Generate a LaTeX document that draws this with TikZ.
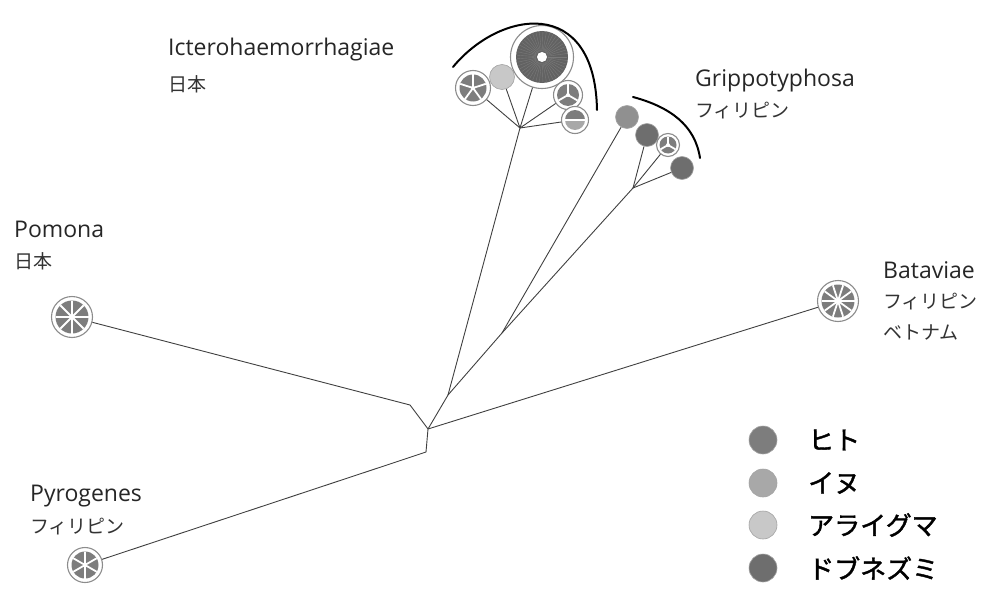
\documentclass[tikz,border=0pt]{standalone}
\usepackage{fontspec}
\setmainfont{Open Sans}
\newfontfamily\cjk{Noto Sans CJK JP}
\newfontfamily\cjkb[FakeBold=1.5]{Noto Sans CJK JP}
\definecolor{human}{HTML}{7D7D7D}
\definecolor{dog}{HTML}{A8A8A8}
\definecolor{racc}{HTML}{C8C8C8}
\definecolor{rat}{HTML}{6E6E6E}
\definecolor{ringc}{HTML}{8C8C8C}
\definecolor{bigc}{HTML}{626262}
\newcommand\wheelfill[5]{%
  \fill[#5] (#1.center) circle (#2);
  \foreach \k in {1,...,#3} \draw[white, line width=1.8pt] (#1.center) -- ++({#4+360*\k/#3}:#2);
  \fill[white] (#1.center) circle (2pt);
}
\tikzset{
  branch/.style={draw=black!75, line width=0.9pt},
  leaf/.style={circle, inner sep=0pt, draw=ringc, line width=1.1pt, fill=white},
  dotnode/.style={circle, inner sep=0pt, draw=ringc!80, line width=0.6pt},
  lab/.style={font=\fontsize{23}{26}\selectfont, anchor=base west, inner sep=0pt, text=black!85},
  jlab/.style={font=\cjk\fontsize{19}{21}\selectfont, anchor=west, inner sep=0pt, text=black!80},
  leg/.style={font=\cjkb\fontsize{26}{28}\selectfont, anchor=west, inner sep=0pt},
  bracket/.style={draw=black, line width=2pt, line cap=round},
}
\begin{document}
\begin{tikzpicture}[x=1pt,y=-1pt]
\useasboundingbox (0,0) rectangle (993,594);
% leaves
\node[leaf, minimum size=41pt] (pom) at (72,317) {};
\node[leaf, minimum size=41pt] (bat) at (838,301) {};
\node[leaf, minimum size=35pt] (pyr) at (85,565) {};
\node[leaf, minimum size=35pt] (i1) at (473,88) {};
\node[dotnode, fill=racc, minimum size=25pt] (i2) at (502,77) {};
\node[leaf, minimum size=63pt] (i3) at (542,57) {};
\node[leaf, minimum size=29pt] (i4) at (568,95) {};
\node[leaf, minimum size=27pt] (i5) at (575,120) {};
\node[dotnode, fill=human!85!white, minimum size=23pt] (g1) at (627,117) {};
\node[dotnode, fill=rat, minimum size=23pt] (g2) at (647,135) {};
\node[leaf, minimum size=23pt] (g3) at (668,145) {};
\node[dotnode, fill=rat, minimum size=23pt] (g4) at (682,168) {};
% inner patterns
\wheelfill{pom}{16.5pt}{8}{0}{human}
\wheelfill{bat}{16.5pt}{10}{0}{human}
\wheelfill{pyr}{13.5pt}{6}{30}{human}
\wheelfill{i1}{13.5pt}{5}{90}{human}
\wheelfill{i4}{11pt}{3}{90}{human}
\wheelfill{g3}{8.5pt}{3}{90}{human}
\fill[bigc] (i3.center) circle (26pt);
\foreach \a in {0,8,...,352} \draw[white, opacity=0.15, line width=0.4pt] (i3.center) ++(\a:6pt) -- ++(\a:19pt);
\fill[white] (i3.center) circle (5pt);
\fill[dog] (i5.center) ++(-10pt,0) arc[start angle=180, end angle=360, radius=10pt] -- cycle;
\fill[human] (i5.center) ++(-10pt,0) arc[start angle=180, end angle=0, radius=10pt] -- cycle;
\draw[white, line width=2.5pt] (i5.center) ++(-10pt,0) -- ++(20pt,0);
% tree
\coordinate (root) at (428,429);
\coordinate (na) at (448,395);
\coordinate (ihub) at (520,128);
\coordinate (nb) at (502,333);
\coordinate (ghub) at (633,188);
\coordinate (pk) at (410,405);
\coordinate (y1) at (426,452);
\coordinate (y2) at (393,463);
\draw[branch] (root) -- (na) -- (ihub);
\draw[branch] (na) -- (nb) -- (g1);
\draw[branch] (nb) -- (ghub);
\draw[branch] (ghub) -- (g2);
\draw[branch] (ghub) -- (g3);
\draw[branch] (ghub) -- (g4);
\draw[branch] (ihub) -- (i1);
\draw[branch] (ihub) -- (i2);
\draw[branch] (ihub) -- (i3);
\draw[branch] (ihub) -- (i4);
\draw[branch] (ihub) -- (i5);
\draw[branch] (root) -- (pk) -- (pom);
\draw[branch] (root) -- (y1) -- (y2) -- (pyr);
\draw[branch] (root) -- (bat);
% brackets
\coordinate (ia) at (453,67);
\coordinate (ib) at (597,110);
\draw[bracket] (ia) .. controls (500,10) and (595,-5) .. (ib);
\coordinate (ga) at (633,97);
\coordinate (gb) at (700,158);
\draw[bracket] (ga) .. controls (670,107) and (695,125) .. (gb);
% labels
\node[lab] (tI) at (168,56) {Icterohaemorrhagiae};
\node[jlab] (tIj) at (168,84) {日本};
\node[lab] (tG) at (695,86) {Grippotyphosa};
\node[jlab] (tGj) at (695,111) {フィリピン};
\node[lab] (tP) at (14,237) {Pomona};
\node[jlab] (tPj) at (14,261) {日本};
\node[lab] (tB) at (883,278) {Bataviae};
\node[jlab] (tBj1) at (883,302) {フィリピン};
\node[jlab] (tBj2) at (883,333) {ベトナム};
\node[lab] (tY) at (30,501) {Pyrogenes};
\node[jlab] (tYj) at (30,527) {フィリピン};
% legend
\node[dotnode, fill=human, minimum size=28pt] (l1) at (763,440) {};
\node[dotnode, fill=dog, minimum size=28pt] (l2) at (763,483) {};
\node[dotnode, fill=racc, minimum size=28pt] (l3) at (763,525) {};
\node[dotnode, fill=rat, minimum size=28pt] (l4) at (763,568) {};
\node[leg] (lt1) at (808,440) {ヒト};
\node[leg] (lt2) at (808,483) {イヌ};
\node[leg] (lt3) at (808,525) {アライグマ};
\node[leg] (lt4) at (808,568) {ドブネズミ};
\end{tikzpicture}
\end{document}
